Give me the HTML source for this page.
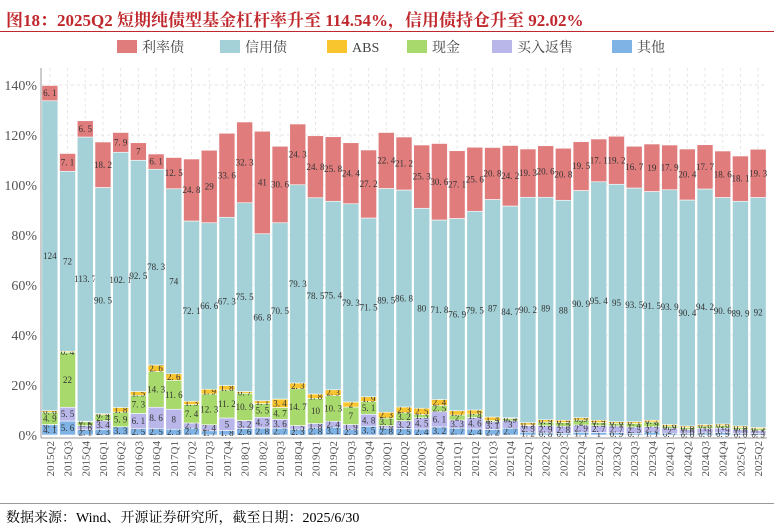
<!DOCTYPE html>
<html><head><meta charset="utf-8">
<style>
html,body{margin:0;padding:0;background:#fff;}
body{width:774px;height:531px;overflow:hidden;position:relative;font-family:"Liberation Serif","Noto Serif CJK SC",serif;}
#title{position:absolute;left:6px;top:6px;font-size:17px;font-weight:bold;color:#c0282d;white-space:nowrap;font-family:"Liberation Serif","Noto Serif CJK SC",serif;}
#src{position:absolute;left:6px;top:507px;font-size:14px;color:#000;white-space:nowrap;}
.line{position:absolute;left:0;width:774px;height:1px;background:#c0282d;}
</style></head>
<body>
<div id="title">图18：2025Q2 短期纯债型基金杠杆率升至 114.54%，信用债持仓升至 92.02%</div>
<div class="line" style="top:31px"></div>
<svg id="chart" width="774" height="531" style="position:absolute;left:0;top:0"></svg>
<div class="line" style="top:503px;background:#999"></div>
<div id="src">数据来源：Wind、开源证券研究所，截至日期：2025/6/30</div>
<script>
const categories=["2015Q2","2015Q3","2015Q4","2016Q1","2016Q2","2016Q3","2016Q4","2017Q1","2017Q2","2017Q3","2017Q4","2018Q1","2018Q2","2018Q3","2018Q4","2019Q1","2019Q2","2019Q3","2019Q4","2020Q1","2020Q2","2020Q3","2020Q4","2021Q1","2021Q2","2021Q3","2021Q4","2022Q1","2022Q2","2022Q3","2022Q4","2023Q1","2023Q2","2023Q3","2023Q4","2024Q1","2024Q2","2024Q3","2024Q4","2025Q1","2025Q2"];
const otherVals=[4.1,5.6,2.1,2.3,3.3,2.5,2.5,2.3,2.7,1.7,1.8,2.6,2.8,2.7,2.3,2.8,3.1,2.3,3.5,2.8,2.5,2.4,3.2,2.7,2.4,2.2,2.7,1.2,0.8,0.7,1.1,1,0.9,0.7,1.1,0.7,0.6,0.8,0.9,0.6,0.5];
const repoVals=[0.1,5.5,1.6,3.4,0,6.1,8.6,8,2.1,2.4,5,3.2,4.3,3.6,1.5,1.8,2.4,1.9,4.8,0.9,3.2,4.5,6.1,3.3,4.6,3.1,3,2.5,2.9,2.8,2.9,2.7,2.7,2.5,2.2,2,1.6,1.8,1.9,1.6,1.3];
const cashVals=[4.9,22,1.6,2.4,5.9,7.3,14.3,11.6,7.4,12.3,11.2,10.9,5.5,4.7,14.7,10,10.3,7,5.1,3.1,3.2,1.3,2.5,2,1.4,0.5,0.9,0.3,1.5,1.5,2,1.3,1.1,1.4,1.9,0.9,0.8,1,1,0.8,0.7];
const absVals=[0.6,0.4,0.2,0.4,1.8,1.5,2.6,2.6,1.3,1.9,1.8,0.7,1.1,3.4,2.3,1.8,2.3,2,1.9,2.3,2.3,2.5,2.4,1.7,1.6,1.4,0.3,0.9,0.9,0.9,0.9,0.9,0.6,0.7,0.7,0.6,0.6,0.6,0.6,0.6,0.5];
const creditVals=[124,72,113.7,90.5,102.1,92.5,78.3,74,72.1,66.6,67.3,75.5,66.8,70.5,79.3,78.5,75.4,79.3,71.5,89.5,86.8,80,71.8,76.9,79.5,87,84.7,90.2,89,88,90.9,95.4,95,93.5,91.5,93.9,90.4,94.2,90.6,89.9,92];
const rateVals=[6.1,7.1,6.5,18.2,7.9,7,6.1,12.5,24.8,29,33.6,32.3,41,30.6,24.3,24.8,25.8,24.4,27.2,22.4,21.2,25.3,30.6,27.1,25.6,20.8,24.2,19.3,20.6,20.8,19.5,17.1,19.2,16.7,19,17.9,20.4,17.7,18.6,18.1,19.3];
const yTicks=[0,20,40,60,80,100,120,140];
const seriesNames=["其他","买入返售","现金","ABS","信用债","利率债"];

const NS="http://www.w3.org/2000/svg";
const svg=document.getElementById('chart');
const X0=41,X1=767,Y0=435,YT=68,PER=2.5;
const step=(X1-X0)/categories.length;
const y=v=>Y0-v*PER;
const xc=i=>X0+step*(i+0.5);
const series=[otherVals,repoVals,cashVals,absVals,creditVals,rateVals];
const colors=["#7fb3e6","#b9b6ea","#a8d96c","#f8c52f","#a3d1d7","#e07c7c"];
const keys=["other","repo","cash","abs","credit","rate"];
function mk(t,a){const e=document.createElementNS(NS,t);for(const k in a)e.setAttribute(k,a[k]);svg.appendChild(e);return e;}

// grid
yTicks.forEach(v=>{
  const g=mk('line',{x1:X0,x2:X1,y1:y(v),y2:y(v),stroke:'#e3e3e3','stroke-dasharray':'3,3'});
  
  
  const t=mk('text',{x:X0-4,y:y(v)+5,'text-anchor':'end','font-size':'14','fill':'#555','font-family':'Liberation Serif, serif'});
  t.textContent=v+'%';
  
  
});
categories.forEach((c,i)=>{
  const g=mk('line',{x1:xc(i),x2:xc(i),y1:YT,y2:Y0,stroke:'#e6e6e6','stroke-dasharray':'3,3'});
  
  
});
// bars
categories.forEach((c,i)=>{
  let base=0;
  series.forEach((arr,s)=>{
    const v=arr[i];
    const r=mk('rect',{x:xc(i)-8,y:y(base+v),width:16,height:v*PER,fill:colors[s],stroke:'#fff','stroke-width':'0.6'});
    
    
    if(v>0){
      const t=mk('text',{x:xc(i),y:y(base+v/2)+3,'text-anchor':'middle','font-size':'9','fill':'#333','font-family':'Liberation Serif, serif'});
      t.textContent=String(v).replace('.','. ');
      
      
    }
    base+=v;
  });
  const xl=mk('text',{transform:'translate('+(xc(i)+4)+','+(Y0+6)+') rotate(-90)','text-anchor':'end','font-size':'11','fill':'#555','font-family':'Liberation Serif, serif'});
  xl.textContent=c;
  
  
});
// axes
const ax=mk('line',{x1:X0,x2:X0,y1:YT,y2:Y0+3,stroke:'#999'});


const bx=mk('line',{x1:X0,x2:X1,y1:Y0+3,y2:Y0+3,stroke:'#999'});


// legend
const legX=[117,220,327,407,492,612];
const legOrder=[5,4,3,2,1,0];
legOrder.forEach((s,k)=>{
  const r=mk('rect',{x:legX[k],y:40,width:20,height:13,fill:colors[s]});
  
  
  const t=mk('text',{x:legX[k]+25,y:52,'font-size':'14','fill':'#444','font-family':'Liberation Serif, Noto Serif CJK SC, serif'});
  t.textContent=seriesNames[s];
  
  
});
</script>
</body></html>
